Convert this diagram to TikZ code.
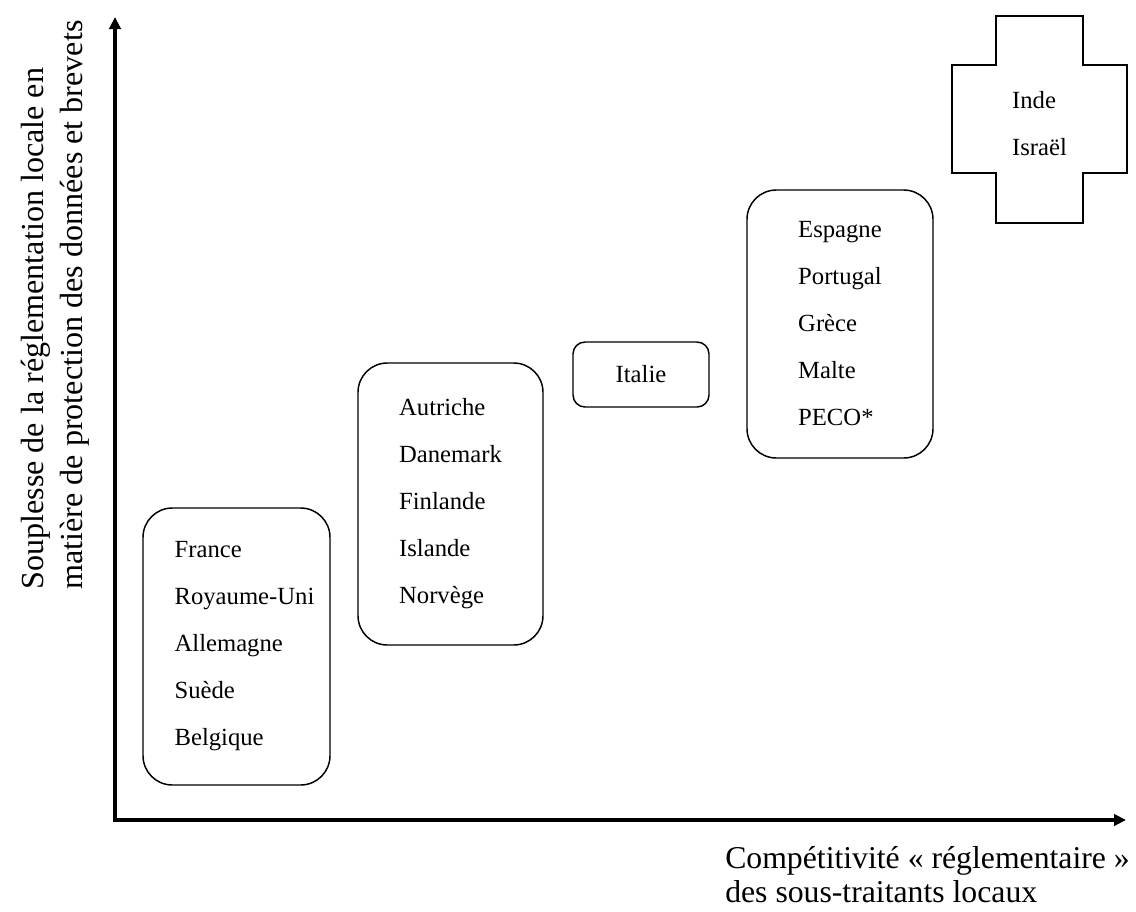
\documentclass[tikz,border=0pt]{standalone}
\usepackage{fontspec}
\setmainfont{Liberation Serif}
\usetikzlibrary{arrows.meta,calc}
\newcommand{\ind}{\hspace*{12pt}}
\begin{document}
\begin{tikzpicture}[x=0.75pt,y=-0.75pt,
  box/.style={draw,line width=1.1pt,rounded corners=22pt,align=left,
    font=\fontsize{18.5}{35.25}\selectfont,inner sep=0pt},
  axis/.style={line width=3pt,line join=miter,{Triangle[length=9pt,width=8.5pt]}-{Triangle[length=9pt,width=8.5pt]}},
  xlbl/.style={font=\fontsize{23.8}{25.5}\selectfont,align=left,inner sep=0pt},
  ylbl/.style={font=\fontsize{24.1}{29.25}\selectfont,align=left,inner sep=0pt,rotate=90}]
\useasboundingbox (0,0) rectangle (1136,911);

% axes
\coordinate (O) at (115,820);
\coordinate (Ytip) at (115,17);
\coordinate (Xtip) at (1126,820);
\draw[axis] (Ytip) -- (O) -- (Xtip);

% axis labels
\node[ylbl,anchor=west] (ylab) at (55,590) {Souplesse de la réglementation locale en\\matière de protection des données et brevets};
\node[xlbl,anchor=north west] (xlab) at (725,846) {Compétitivité « réglementaire »\\des sous-traitants locaux};

% groups
\node[box,minimum width=140.25pt,minimum height=207.75pt] (g1) at (236.5,646.5)
  {\ind France\\\ind Royaume-Uni\\\ind Allemagne\\\ind Suède\\\ind Belgique};
\node[box,minimum width=138.75pt,minimum height=211.5pt] (g2) at (450.5,504)
  {Autriche\\Danemark\\Finlande\\Islande\\Norvège};
\node[box,rounded corners=9pt,minimum width=102pt,minimum height=48.75pt] (g3) at (641,374.5)
  {\raisebox{-2pt}{Italie}};
\node[box,minimum width=139.5pt,minimum height=201pt] (g4) at (840,324)
  {Espagne\\Portugal\\Grèce\\Malte\\PECO*};

% cross
\node[align=left,font=\fontsize{18.5}{35.25}\selectfont,inner sep=0pt] (g5) at (1039.5,124) {Inde\\Israël};
\draw[line width=1.1pt,line join=miter]
  (996,16) -- (1083,16) -- (1083,65) -- (1127,65) -- (1127,173) -- (1083,173)
  -- (1083,223) -- (996,223) -- (996,173) -- (952,173) -- (952,65) -- (996,65) -- cycle;
\end{tikzpicture}
\end{document}
